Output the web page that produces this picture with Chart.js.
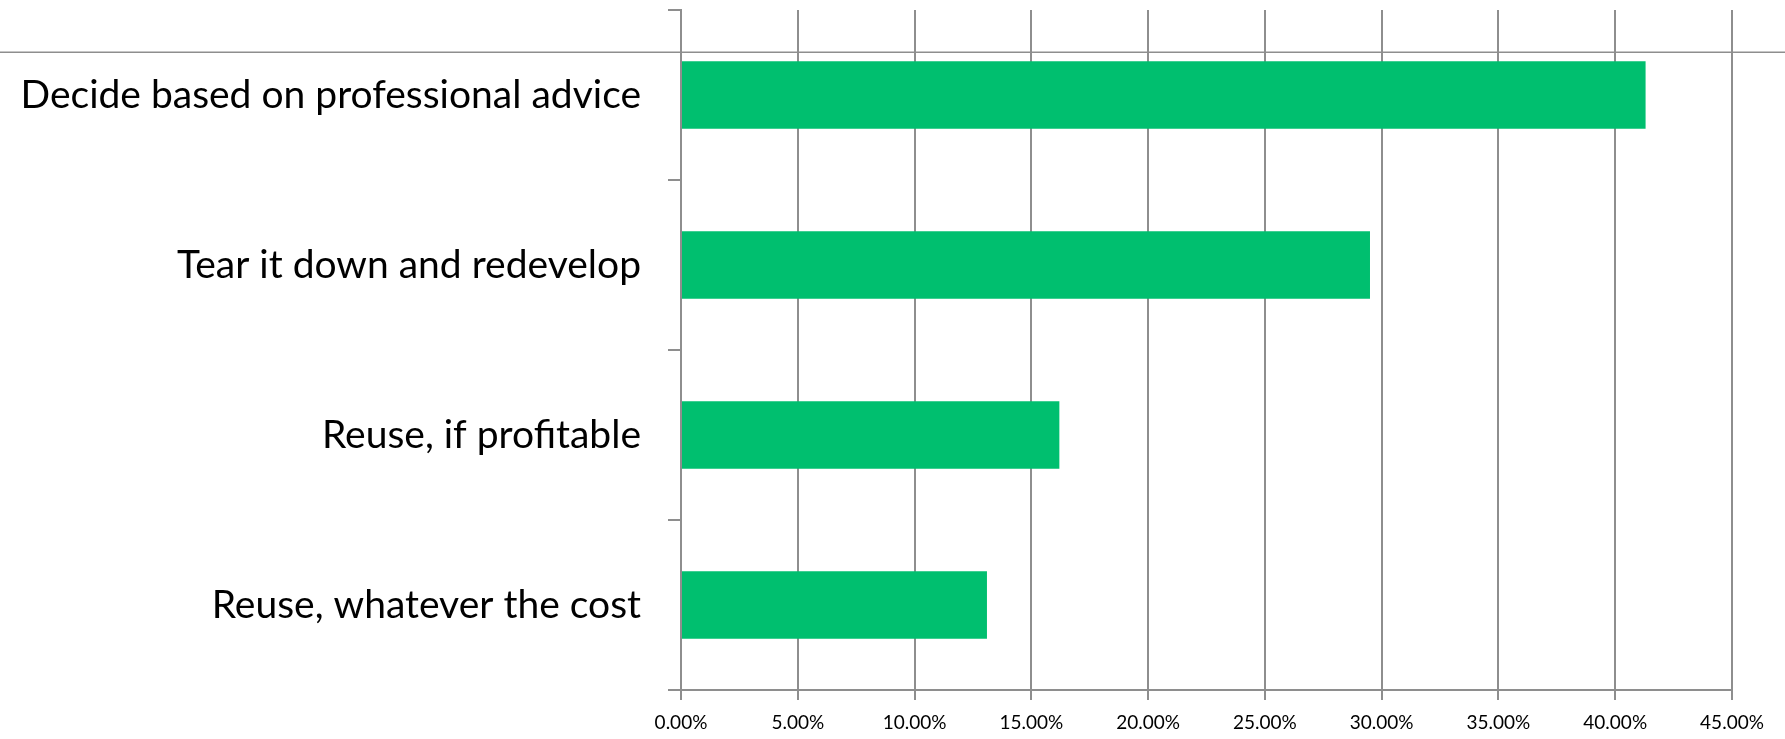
<!DOCTYPE html>
<html lang="en">
<head>
  <meta charset="UTF-8" />
  <title>Reuse or redevelop</title>
  <script src="https://cdn.jsdelivr.net/npm/chart.js"></script>
  <style>
    * { box-sizing: border-box; }
    body { margin: 0; background: #fff; }
    .wrap { width: 1785px; height: 739px; }
  </style>
</head>
<body>
  <div class="wrap"><canvas id="chart"></canvas></div>

  <script>
    const categories = [
      "Decide based on professional advice",
      "Tear it down and redevelop",
      "Reuse, if profitable",
      "Reuse, whatever the cost"
    ];
    const shares = [41.3, 29.5, 16.2, 13.1];
    const tickValues = [0, 5, 10, 15, 20, 25, 30, 35, 40, 45];

    const gridGrey = '#8e8e8e';

    // stray horizontal rule across the whole picture, just above the first bar
    const topRule = {
      id: 'topRule',
      afterDraw(chart) {
        const ctx = chart.ctx;
        const bar = chart.getDatasetMeta(0).data[0];
        const y = bar.y - bar.height / 2 - 9;
        ctx.save();
        ctx.strokeStyle = gridGrey;
        ctx.lineWidth = 1.5;
        ctx.beginPath();
        ctx.moveTo(0, y);
        ctx.lineTo(chart.width, y);
        ctx.stroke();
        ctx.restore();
      }
    };

    new Chart(document.getElementById('chart'), {
      type: 'bar',
      data: {
        labels: categories,
        datasets: [{
          data: shares,
          backgroundColor: '#00bf6f',
          borderWidth: 0,
          categoryPercentage: 0.4,
          barPercentage: 0.99
        }]
      },
      plugins: [topRule],
      options: {
        indexAxis: 'y',
        responsive: true,
        maintainAspectRatio: false,
        animation: false,
        layout: { padding: { top: 10, right: 53, bottom: 0, left: 0 } },
        plugins: { legend: { display: false }, tooltip: { enabled: false } },
        scales: {
          x: {
            min: 0,
            max: 45,
            afterBuildTicks: (scale) => { scale.ticks = tickValues.map(v => ({ value: v })); },
            afterFit: (scale) => { scale.height = 49; },
            ticks: {
              color: '#000',
              padding: 11,
              font: { family: 'Lato', size: 19 },
              callback: (v) => Number(v).toFixed(2) + '%'
            },
            grid: { color: gridGrey, lineWidth: 2, tickLength: 10 },
            border: { color: gridGrey, width: 2 }
          },
          y: {
            afterFit: (scale) => {
              scale.width = 681;
              scale.paddingTop = 0;
              scale.paddingBottom = 0;
            },
            ticks: {
              color: '#000',
              padding: 27,
              font: { family: 'Lato', size: 39 }
            },
            grid: { drawOnChartArea: false, color: gridGrey, lineWidth: 2, tickLength: 13, offset: true },
            border: { color: gridGrey, width: 2 }
          }
        }
      }
    });
  </script>
</body>
</html>
